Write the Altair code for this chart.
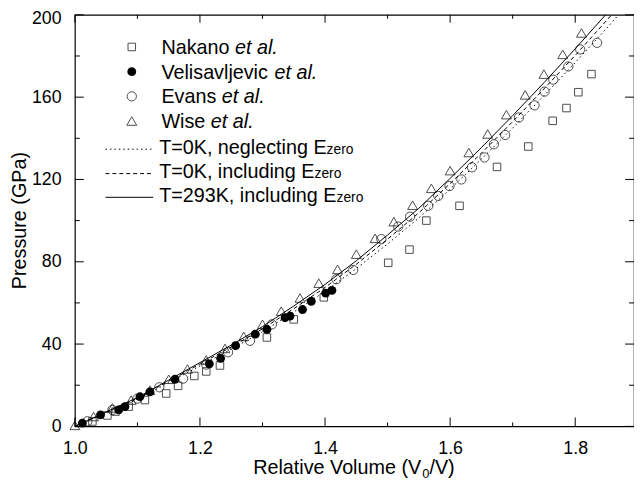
import altair as alt
import pandas as pd

# ---------------- data ----------------
line_v = [1.00, 1.05, 1.10, 1.15, 1.20, 1.25, 1.30, 1.35, 1.40, 1.45,
          1.50, 1.55, 1.60, 1.65, 1.70, 1.75, 1.80, 1.85, 1.90]
p_293k_inc = [0, 7.0, 14.0, 22.5, 31.0, 39.5, 48.5, 58.5, 69.0, 80.5,
              93.0, 106.0, 120.5, 135.5, 151.0, 167.0, 183.5, 200.5, 218.0]
p_0k_inc = [0, 6.8, 13.6, 22.0, 30.3, 38.6, 47.4, 57.2, 67.5, 78.8,
            91.0, 103.8, 118.0, 132.8, 148.1, 164.0, 180.3, 197.2, 214.5]
p_0k_neg = [0, 6.6, 13.2, 21.3, 29.4, 37.5, 46.0, 55.6, 65.6, 76.7,
            88.7, 101.3, 115.3, 129.9, 145.0, 160.7, 176.8, 193.4, 210.5]

nakano_v = [1.028, 1.052, 1.065, 1.086, 1.112, 1.146, 1.165, 1.191, 1.210, 1.232,
            1.307, 1.350, 1.398, 1.501, 1.535, 1.562, 1.615, 1.675, 1.725, 1.764,
            1.786, 1.805, 1.826]
nakano_p = [2.4, 5.3, 7.2, 9.6, 12.8, 16.0, 19.7, 24.5, 26.7, 29.6,
            43.2, 52.0, 62.7, 79.5, 85.9, 100.0, 107.2, 126.1, 136.0, 148.5,
            154.7, 162.4, 171.2]

velis_v = [1.012, 1.041, 1.070, 1.080, 1.104, 1.120, 1.160, 1.215, 1.233, 1.257,
           1.2885, 1.307, 1.336, 1.344, 1.364, 1.378, 1.401, 1.411]
velis_p = [1.6, 5.6, 8.0, 9.6, 14.4, 16.8, 22.9, 30.4, 33.1, 39.2,
           44.8, 47.2, 52.8, 53.6, 56.8, 60.8, 64.8, 66.1]

evans_v = [1.020, 1.060, 1.100, 1.135, 1.173, 1.210, 1.245, 1.280, 1.315, 1.418,
           1.445, 1.490, 1.517, 1.536, 1.565, 1.581, 1.599, 1.618, 1.635, 1.655,
           1.670, 1.688, 1.710, 1.735, 1.751, 1.765, 1.789, 1.808, 1.835]
evans_p = [2.5, 8.0, 13.5, 19.0, 23.2, 30.0, 36.0, 41.6, 49.6, 71.5,
           76.0, 91.0, 97.1, 101.9, 107.2, 112.0, 116.8, 120.0, 125.9, 130.7,
           137.1, 141.6, 150.1, 156.0, 162.7, 168.5, 174.9, 183.2, 186.4]

wise_v = [1.00, 1.03, 1.06, 1.09, 1.12, 1.15, 1.18, 1.21, 1.24, 1.27,
          1.30, 1.33, 1.36, 1.39, 1.42, 1.45, 1.48, 1.51, 1.54, 1.57,
          1.60, 1.63, 1.66, 1.69, 1.72, 1.75, 1.78, 1.81]
wise_p = [0.5, 4.8, 9.0, 12.8, 17.6, 22.9, 27.9, 32.3, 37.9, 43.7,
          49.6, 56.0, 62.4, 69.6, 76.3, 83.7, 91.4, 99.5, 107.5, 115.7,
          124.3, 133.1, 142.1, 151.5, 161.1, 171.2, 180.8, 191.2]

x_major = [1.0, 1.2, 1.4, 1.6, 1.8]
x_minor = [1.1, 1.3, 1.5, 1.7]
y_major = [0, 40, 80, 120, 160, 200]
y_minor = [20, 60, 100, 140, 180]

legend_markers = ["Nakano ", "Velisavljevic ", "Evans ", "Wise "]
legend_lines = ["T=0K, neglecting E", "T=0K, including E", "T=293K, including E"]

# ---------------- layout ----------------
W, H = 566, 416.6
FONT = "Liberation Sans"
LFS = 20      # legend font size
xs = alt.Scale(domain=[1.0, 1.894], nice=False, zero=False)
ys = alt.Scale(domain=[0, 200], nice=False)

AW = {' ': 278, '(': 333, ')': 333, '/': 278, ',': 278, '.': 278, '=': 584,
      'A': 667, 'E': 667, 'G': 778, 'K': 667, 'N': 722, 'P': 667, 'R': 722,
      'T': 611, 'V': 667, 'W': 944,
      'a': 556, 'b': 556, 'c': 500, 'd': 556, 'e': 556, 'f': 278, 'g': 556,
      'h': 556, 'i': 222, 'j': 222, 'k': 500, 'l': 222, 'm': 833, 'n': 556,
      'o': 556, 'p': 556, 'q': 556, 'r': 333, 's': 500, 't': 278, 'u': 556,
      'v': 500, 'w': 722, 'x': 500, 'y': 500, 'z': 500}


def tw(s, size):
    return sum(AW.get(c, 556) for c in s) / 1000.0 * size


AX = dict(grid=False, ticks=False, tickSize=0, domain=False, labelFlush=False,
          labelFont=FONT, labelFontSize=18, labelColor="black")
XAX = alt.Axis(values=x_major, format=".1f", labelPadding=13, **AX)
YAX = alt.Axis(values=y_major, format="d", labelPadding=14,
               labelOffset={"condition": {"test": "datum.value == 200", "value": 4}, "value": 0},
               **AX)
X = alt.X("v:Q", scale=xs, title=None, axis=XAX)
Y = alt.Y("p:Q", scale=ys, title=None, axis=YAX)


def curve(p, dash):
    d = pd.DataFrame({"v": line_v, "p": p})
    kw = {"strokeDash": dash} if dash else {}
    return alt.Chart(d).mark_line(color="black", strokeWidth=1, clip=True, **kw).encode(x=X, y=Y)


lines = [curve(p_0k_neg, [1.5, 3]), curve(p_0k_inc, [4, 3]), curve(p_293k_inc, None)]


def pts(v, p, mark):
    return alt.Chart(pd.DataFrame({"v": v, "p": p})).mark_point(**mark).encode(x=X, y=Y)


SQ = dict(shape="square", filled=False, size=58)
FC = dict(shape="circle", filled=True, size=80, opacity=1)
OC = dict(shape="circle", filled=False, size=88)
TR = dict(shape="triangle-up", filled=False, size=100)

points = [
    pts(nakano_v, nakano_p, dict(color="black", strokeWidth=1, **SQ)),
    pts(evans_v, evans_p, dict(color="black", strokeWidth=1, **OC)),
    pts(wise_v, wise_p, dict(color="black", strokeWidth=1, **TR)),
    pts(velis_v, velis_p, dict(color="black", **FC)),
]

# inward ticks on all four sides
def xticks(vals, ln, top):
    d = pd.DataFrame({"v": vals})
    y0 = 0 if top else H
    y1 = ln if top else H - ln
    return alt.Chart(d).mark_rule(color="black", strokeWidth=1).encode(
        x=X, y=alt.value(y0), y2=alt.value(y1))


def yticks(vals, ln, right):
    d = pd.DataFrame({"p": vals})
    x0 = W if right else 0
    x1 = W - ln if right else ln
    return alt.Chart(d).mark_rule(color="black", strokeWidth=1).encode(
        y=Y, x=alt.value(x0), x2=alt.value(x1))


ticks = [xticks(x_major, 9, False), xticks(x_minor, 4, False),
         xticks(x_major, 8, True), xticks(x_minor, 4, True),
         yticks(y_major, 9, False), yticks(y_minor, 5, False),
         yticks(y_major, 9, True), yticks(y_minor, 5, True)]

# ---------------- legend ----------------
mk_x, txt_x = 57.6, 87.6
mk_base = [39.5, 64.5, 89.5, 114.5]
shapes = [SQ, FC, OC, TR]
leg = []
one = pd.DataFrame({"a": [0]})
for name, base, shp in zip(legend_markers, mk_base, shapes):
    leg.append(alt.Chart(one).mark_point(color="black", strokeWidth=1, **shp).encode(
        x=alt.value(mk_x), y=alt.value(base - 7)))
    leg.append(alt.Chart(one).mark_text(align="left", baseline="alphabetic", font=FONT,
                                        fontSize=LFS, color="black", text=name.strip()).encode(
        x=alt.value(txt_x), y=alt.value(base)))
    leg.append(alt.Chart(one).mark_text(align="left", baseline="alphabetic", font=FONT,
                                        fontSize=LFS, fontStyle="italic", color="black",
                                        text="et al.").encode(
        x=alt.value(txt_x + tw(name, LFS)), y=alt.value(base)))

ln_y = [136.0, 160.7, 184.7]
ln_base = [140.5, 165.2, 189.2]
dashes = [[1.5, 3], [4, 3], None]
ltxt_x = 85.3
for name, yy, base, dash in zip(legend_lines, ln_y, ln_base, dashes):
    kw = {"strokeDash": dash} if dash else {}
    leg.append(alt.Chart(one).mark_rule(color="black", strokeWidth=1, **kw).encode(
        x=alt.value(31), x2=alt.value(79.3), y=alt.value(yy)))
    leg.append(alt.Chart(one).mark_text(align="left", baseline="alphabetic", font=FONT,
                                        fontSize=LFS, color="black", text=name).encode(
        x=alt.value(ltxt_x), y=alt.value(base)))
    leg.append(alt.Chart(one).mark_text(align="left", baseline="alphabetic", font=FONT,
                                        fontSize=14, color="black", text="zero").encode(
        x=alt.value(ltxt_x + tw(name, LFS)), y=alt.value(base)))

# ---------------- axis titles ----------------
TFS = 20
xt_parts = ["Relative Volume (V", "0", "/V)"]
w1 = tw(xt_parts[0], TFS)
w2 = tw(xt_parts[1], 13)
w3 = tw(xt_parts[2], TFS)
x_start = W / 2 - 0.5 - (w1 + w2 + w3) / 2
xt_base = H + 48
titles = [
    alt.Chart(one).mark_text(align="left", baseline="alphabetic", font=FONT, fontSize=TFS,
                             color="black", text=xt_parts[0]).encode(
        x=alt.value(x_start), y=alt.value(xt_base)),
    alt.Chart(one).mark_text(align="left", baseline="alphabetic", font=FONT, fontSize=13,
                             color="black", text=xt_parts[1]).encode(
        x=alt.value(x_start + w1), y=alt.value(xt_base + 4)),
    alt.Chart(one).mark_text(align="left", baseline="alphabetic", font=FONT, fontSize=TFS,
                             color="black", text=xt_parts[2]).encode(
        x=alt.value(x_start + w1 + w2), y=alt.value(xt_base)),
    alt.Chart(one).mark_text(align="center", baseline="middle", font=FONT, fontSize=TFS,
                             color="black", angle=270, text="Pressure (GPa)").encode(
        x=alt.value(-55.5), y=alt.value(H / 2)),
]

chart = alt.layer(*lines, *points, *ticks, *leg, *titles).properties(
    width=W, height=H,
    autosize=alt.AutoSizeParams(type="none"),
    padding={"left": 67.7, "top": 4, "right": 0, "bottom": 56},
    background="white",
).configure_view(stroke="black", strokeWidth=1.2)

chart.save("out.html", embed_options={"renderer": "svg", "actions": False})
